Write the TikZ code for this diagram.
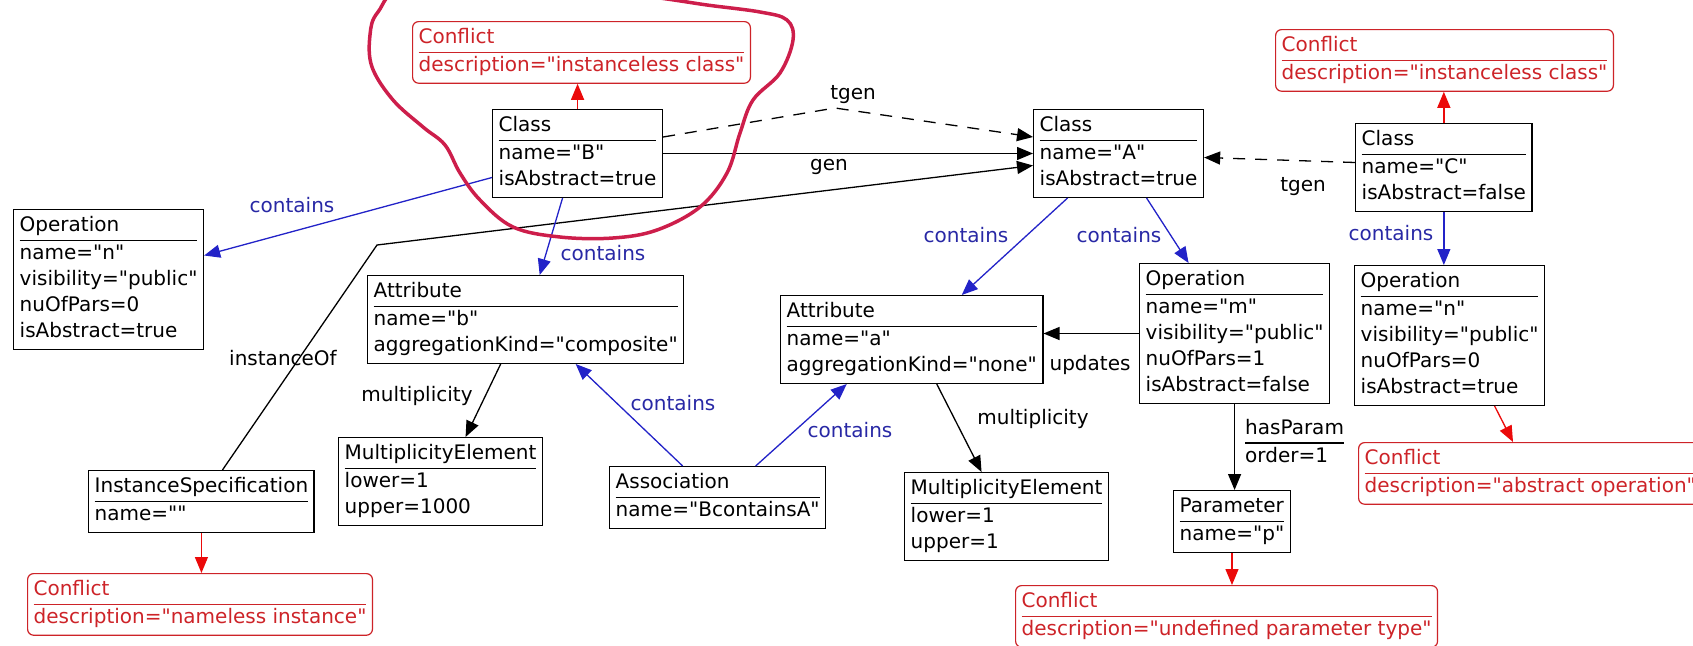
\documentclass[tikz,border=0pt]{standalone}
\usepackage{fontspec}
\setmainfont{DejaVu Sans}[Ligatures=TeXOff]
\usetikzlibrary{calc}
\usetikzlibrary{arrows.meta}
\definecolor{conflictred}{RGB}{205,35,40}
\definecolor{linkred}{RGB}{235,10,10}
\definecolor{containsblue}{RGB}{35,35,200}
\definecolor{labelblue}{RGB}{40,40,165}
\definecolor{marker}{RGB}{205,30,75}
\newcommand{\umlobj}[2]{\begin{tabular}{@{}l@{}}#1\\\hline #2\end{tabular}}
\setlength{\arrayrulewidth}{1.6pt}
\tikzset{
	obj/.style={draw, line width=1.4pt, anchor=north west, inner xsep=6pt, inner ysep=4pt,
		font=\fontsize{20pt}{26pt}\selectfont},
	conflict/.style={obj, draw=conflictred, text=conflictred, rounded corners=6pt, line width=1.2pt},
	lbl/.style={inner sep=1pt, font=\fontsize{20pt}{26pt}\selectfont},
	containslbl/.style={lbl, text=labelblue},
	link/.style={draw, line width=1.3pt, -{Triangle[length=16pt,width=13pt]}},
	tgenlink/.style={link, dash pattern=on 12pt off 10pt},
	containslink/.style={link, draw=containsblue, fill=containsblue},
	conflictlink/.style={link, draw=linkred, fill=linkred},
}

\begin{document}
\begin{tikzpicture}[x=1pt,y=-1pt]
	\useasboundingbox (0,0) rectangle (1693,645);
	\clip (0,0) rectangle (1693,645);
	% classes
	\node[obj] (clsB) at (492,109) {\umlobj{Class}{name="B"\\isAbstract=true}};
	\node[obj] (clsA) at (1033,109) {\umlobj{Class}{name="A"\\isAbstract=true}};
	\node[obj] (clsC) at (1355,123) {\umlobj{Class}{name="C"\\isAbstract=false}};
	% features
	\node[obj] (opN1) at (13,209) {\umlobj{Operation}{name="n"\\visibility="public"\\nuOfPars=0\\isAbstract=true}};
	\node[obj] (attrB) at (367,275) {\umlobj{Attribute}{name="b"\\aggregationKind="composite"}};
	\node[obj] (attrA) at (780,295) {\umlobj{Attribute}{name="a"\\aggregationKind="none"}};
	\node[obj] (opM) at (1139,263) {\umlobj{Operation}{name="m"\\visibility="public"\\nuOfPars=1\\isAbstract=false}};
	\node[obj] (opN2) at (1354,265) {\umlobj{Operation}{name="n"\\visibility="public"\\nuOfPars=0\\isAbstract=true}};
	\node[obj] (instSpec) at (88,470) {\umlobj{InstanceSpecification}{name=""}};
	\node[obj] (multB) at (338,437) {\umlobj{MultiplicityElement}{lower=1\\upper=1000}};
	\node[obj] (assoc) at (609,466) {\umlobj{Association}{name="BcontainsA"}};
	\node[obj] (multA) at (904,472) {\umlobj{MultiplicityElement}{lower=1\\upper=1}};
	\node[obj] (param) at (1173,490) {\umlobj{Parameter}{name="p"}};
	% conflicts
	\node[conflict] (cnfB) at (412,21) {\umlobj{Conflict}{description="instanceless class"}};
	\node[conflict] (cnfC) at (1275,29) {\umlobj{Conflict}{description="instanceless class"}};
	\node[conflict] (cnfAbs) at (1358,442) {\umlobj{Conflict}{description="abstract operation"}};
	\node[conflict] (cnfNameless) at (27,573) {\umlobj{Conflict}{description="nameless instance"}};
	\node[conflict] (cnfUndef) at (1015,585) {\umlobj{Conflict}{description="undefined parameter type"}};

	\draw[conflictlink] (clsB.north) -- (clsB.north |- cnfB.south);
	\draw[conflictlink] (clsC.north) -- (clsC.north |- cnfC.south);
	\draw[conflictlink] (instSpec.south) -- (instSpec.south |- cnfNameless.north);
	\draw[conflictlink] (param.south) -- (param.south |- cnfUndef.north);
	\draw[conflictlink] ($(opN2.south)+(45,0)$) -- ($(cnfAbs.north west)+(155,0)$);

	% generalisations
	\coordinate (tgenTop) at (835,108);
	\coordinate (instBend) at (377,245);
	\draw[tgenlink] ($(clsB.north east)+(0,28)$) -- (tgenTop) -- ($(clsA.north west)+(0,28)$);
	\node[lbl] (lblTgenB) at (853,95) {tgen};
	\draw[link] (clsB.east) -- (clsA.west);
	\node[lbl] (lblGen) at (829,167) {gen};
	\draw[tgenlink] ($(clsC.west)+(0,-5)$) -- ($(clsA.east)+(0,4)$);
	\node[lbl] (lblTgenC) at (1303,187) {tgen};
	\draw[link] ($(instSpec.north)+(21,0)$) -- (instBend) -- ($(clsA.west)+(0,12)$);
	\node[lbl] (lblInst) at (283,358) {instanceOf};

	% containment
	\draw[containslink] ($(clsB.west)+(0,24)$) -- ($(opN1.east)+(0,-24)$);
	\node[containslbl] (lblContOp) at (292,205) {contains};
	\draw[containslink] ($(clsB.south)+(-15,0)$) -- ($(attrB.north)+(14,0)$);
	\node[containslbl] (lblContB) at (603,253) {contains};
	\draw[containslink] ($(clsA.south)+(-51,0)$) -- ($(attrA.north)+(50,0)$);
	\node[containslbl] (lblContA) at (966,235) {contains};
	\draw[containslink] ($(clsA.south)+(28,0)$) -- ($(opM.north)+(-46,0)$);
	\node[containslbl] (lblContM) at (1119,235) {contains};
	\draw[containslink] (clsC.south) -- (clsC.south |- opN2.north);
	\node[containslbl] (lblContN) at (1391,233) {contains};
	\draw[containslink] ($(assoc.north)+(-35,0)$) -- ($(attrB.south)+(50,0)$);
	\node[containslbl] (lblAssocB) at (673,403) {contains};
	\draw[containslink] ($(assoc.north)+(38,0)$) -- ($(attrA.south)+(-65,0)$);
	\node[containslbl] (lblAssocA) at (850,430) {contains};

	% other links
	\draw[link] (opM.west) -- (opM.west -| attrA.east);
	\node[lbl] (lblUpd) at (1090,365) {updates};
	\draw[link] ($(attrB.south)+(-25,0)$) -- ($(multB.north)+(25,0)$);
	\node[lbl] (lblMultB) at (417,396) {multiplicity};
	\draw[link] ($(attrA.south)+(25,0)$) -- ($(multA.north)+(-25,0)$);
	\node[lbl] (lblMultA) at (1033,419) {multiplicity};
	\draw[link] (opM.south) -- (opM.south |- param.north);
	\node[lbl, anchor=west] (lblParam) at (1244,443) {\umlobj{hasParam}{order=1}};

	% hand drawn mark
	\draw[marker, line width=3.5pt] plot[smooth cycle, tension=0.6] coordinates {
		(410,-15) (378,12) (370,35) (372,67) (393,100) (423,127) (445,145) (460,173)
		(480,200) (513,227) (560,237) (613,238) (657,230) (700,207) (727,173) (740,133)
		(753,100) (780,73) (793,40) (787,20) (760,12) (707,5) (660,-2) (530,-20)};
\end{tikzpicture}
\end{document}
